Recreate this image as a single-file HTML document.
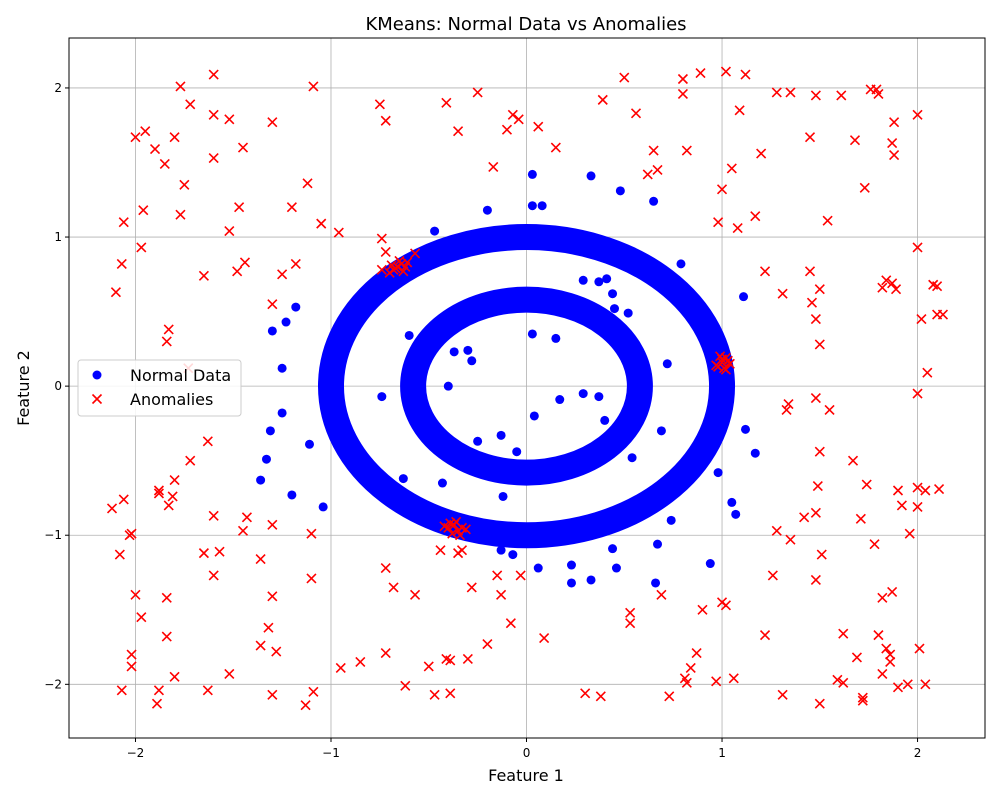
<!DOCTYPE html>
<html><head><meta charset="utf-8"><style>
body{margin:0;background:#fff}
svg text{font-family:"DejaVu Sans","Liberation Sans",sans-serif}
</style></head><body>
<svg id="chart" width="1000" height="800" xmlns="http://www.w3.org/2000/svg">
<rect width="1000" height="800" fill="#fff"/>
<text x="526" y="30" text-anchor="middle" font-size="18">KMeans: Normal Data vs Anomalies</text>
<g id="grid"></g>
<g id="rings"></g>
<g id="blue"></g>
<g id="red"></g>
<rect x="69" y="38" width="916" height="700" fill="none" stroke="#000" stroke-width="1"/>
<g id="ticks"></g>
<text x="526" y="781" text-anchor="middle" font-size="16">Feature 1</text>
<text x="29" y="388" text-anchor="middle" font-size="16" transform="rotate(-90 29 388)">Feature 2</text>
<g>
<rect x="78" y="360" width="163" height="56" rx="3" fill="#fff" fill-opacity="0.85" stroke="#ccc"/>
<circle cx="97" cy="375" r="4.5" fill="#0000ff"/>
<text x="130" y="381" font-size="16">Normal Data</text>
<path d="M92.5 394.5l9 9M101.5 394.5l-9 9" stroke="#ff0000" stroke-width="1.6"/>
<text x="130" y="405" font-size="16">Anomalies</text>
</g>
</svg>
<script>
const xTicks=[-2,-1,0,1,2];
const yTicks=[-2,-1,0,1,2];
const ringRadii=[1.0,0.58];
const blueX=[0.03,0.03,0.08,0.33,0.48,0.65,-0.2,-0.47,0.79,1.11,-1.18,-1.23,-1.25,-1.3,-1.25,-1.31,-1.33,-1.36,-1.2,-1.11,-1.04,0.29,0.37,0.41,0.44,0.45,0.52,-0.6,-0.37,-0.3,-0.28,-0.4,-0.57,-0.74,-0.25,-0.13,-0.05,-0.12,0.04,0.03,0.15,0.17,0.29,0.37,0.4,0.54,0.69,0.72,-0.43,-0.63,0.06,0.23,0.23,0.33,0.44,0.46,0.66,0.67,0.74,0.94,0.98,1.05,1.07,1.12,1.17,-0.13,-0.07];
const blueY=[1.42,1.21,1.21,1.41,1.31,1.24,1.18,1.04,0.82,0.6,0.53,0.43,0.12,0.37,-0.18,-0.3,-0.49,-0.63,-0.73,-0.39,-0.81,0.71,0.7,0.72,0.62,0.52,0.49,0.34,0.23,0.24,0.17,0.0,-0.1,-0.07,-0.37,-0.33,-0.44,-0.74,-0.2,0.35,0.32,-0.09,-0.05,-0.07,-0.23,-0.48,-0.3,0.15,-0.65,-0.62,-1.22,-1.2,-1.32,-1.3,-1.09,-1.22,-1.32,-1.06,-0.9,-1.19,-0.58,-0.78,-0.86,-0.29,-0.45,-1.1,-1.13];
const redX=[-2.0,-1.95,-1.9,-1.85,-1.8,-1.77,-1.72,-1.75,-1.77,-1.6,-1.6,-1.6,-1.52,-1.45,-1.47,-1.52,-1.48,-1.44,-1.3,-1.2,-1.18,-1.25,-1.09,-1.12,-1.05,-0.96,-1.65,-1.96,-2.06,-2.07,-1.97,-2.1,-1.83,-1.84,-1.73,-1.3,-1.72,-1.63,-2.12,-2.06,-2.03,-2.02,-2.08,-1.88,-1.88,-1.83,-1.81,-1.8,-1.6,-1.57,-1.6,-1.45,-1.43,-1.36,-1.3,-1.65,-2.0,-1.97,-1.84,-1.84,-2.02,-2.02,-2.07,-1.88,-1.89,-1.8,-1.63,-1.52,-1.36,-1.32,-1.3,-1.28,-1.3,-1.13,-1.09,-1.1,-1.1,-0.95,-0.85,-0.72,-0.72,-0.68,-0.62,-0.57,-0.5,-0.47,-0.44,-0.41,-0.39,-0.39,-0.3,-0.28,-0.2,-0.15,-0.13,-0.08,-0.03,0.09,0.3,0.38,0.53,0.53,0.69,0.73,0.81,0.82,0.84,0.87,0.9,0.97,1.0,1.02,1.06,1.22,1.26,1.31,1.28,1.35,1.42,1.48,1.48,1.51,1.5,1.49,1.5,1.48,1.55,1.33,1.34,1.5,1.5,1.48,1.46,1.45,1.31,1.22,1.59,1.62,1.62,1.67,1.69,1.72,1.72,1.71,1.74,1.78,1.8,1.82,1.82,1.84,1.86,1.86,1.87,1.9,1.95,1.96,1.92,1.9,2.0,2.0,2.04,2.04,2.01,2.11,2.0,2.05,2.02,2.08,2.1,2.1,2.13,2.0,1.82,1.84,1.87,1.89,1.88,1.87,1.88,2.0,1.79,1.76,1.8,1.73,1.68,1.61,1.54,1.48,1.45,1.35,1.28,1.2,1.17,1.12,1.09,1.08,1.05,1.02,1.0,0.98,0.89,0.8,0.8,0.82,0.67,0.62,0.65,0.56,0.5,0.39,0.15,0.06,-0.04,-0.07,-0.1,-0.17,-0.25,-0.35,-0.41,-0.72,-0.75,-0.74,-0.72,-0.57,-0.33,-0.35,-0.74,
-0.68,-0.66,-0.64,-0.62,-0.7,-0.65,-0.63,-0.67,-0.61,-0.69,
-0.4,-0.37,-0.35,-0.33,-0.38,-0.36,-0.31,-0.42,-0.34,-0.39,
0.98,1.0,1.02,1.04,0.99,1.01,1.03,0.97,1.0,1.02];
const redY=[1.67,1.71,1.59,1.49,1.67,2.01,1.89,1.35,1.15,2.09,1.82,1.53,1.79,1.6,1.2,1.04,0.77,0.83,1.77,1.2,0.82,0.75,2.01,1.36,1.09,1.03,0.74,1.18,1.1,0.82,0.93,0.63,0.38,0.3,0.12,0.55,-0.5,-0.37,-0.82,-0.76,-1.0,-0.99,-1.13,-0.7,-0.72,-0.8,-0.74,-0.63,-0.87,-1.11,-1.27,-0.97,-0.88,-1.16,-0.93,-1.12,-1.4,-1.55,-1.42,-1.68,-1.8,-1.88,-2.04,-2.04,-2.13,-1.95,-2.04,-1.93,-1.74,-1.62,-1.41,-1.78,-2.07,-2.14,-2.05,-1.29,-0.99,-1.89,-1.85,-1.79,-1.22,-1.35,-2.01,-1.4,-1.88,-2.07,-1.1,-1.83,-1.84,-2.06,-1.83,-1.35,-1.73,-1.27,-1.4,-1.59,-1.27,-1.69,-2.06,-2.08,-1.52,-1.59,-1.4,-2.08,-1.96,-1.99,-1.89,-1.79,-1.5,-1.98,-1.45,-1.47,-1.96,-1.67,-1.27,-2.07,-0.97,-1.03,-0.88,-0.85,-1.3,-1.13,-2.13,-0.67,-0.44,-0.08,-0.16,-0.16,-0.12,0.28,0.65,0.45,0.56,0.77,0.62,0.77,-1.97,-1.99,-1.66,-0.5,-1.82,-2.09,-2.11,-0.89,-0.66,-1.06,-1.67,-1.42,-1.93,-1.76,-1.8,-1.85,-1.38,-2.02,-2.0,-0.99,-0.8,-0.7,-0.68,-0.81,-0.7,-2.0,-1.76,-0.69,-0.05,0.09,0.45,0.68,0.67,0.48,0.48,0.93,0.66,0.71,0.69,0.65,1.55,1.63,1.77,1.82,1.99,1.99,1.96,1.33,1.65,1.95,1.11,1.95,1.67,1.97,1.97,1.56,1.14,2.09,1.85,1.06,1.46,2.11,1.32,1.1,2.1,2.06,1.96,1.58,1.45,1.42,1.58,1.83,2.07,1.92,1.6,1.74,1.79,1.82,1.72,1.47,1.97,1.71,1.9,1.78,1.89,0.99,0.9,0.89,-1.1,-1.12,0.78,
0.78,0.8,0.82,0.8,0.76,0.84,0.77,0.79,0.83,0.81,
-0.95,-0.93,-0.97,-0.95,-0.99,-0.91,-0.96,-0.94,-1.0,-0.92,
0.13,0.16,0.19,0.15,0.2,0.12,0.17,0.14,0.18,0.11];
const NS="http://www.w3.org/2000/svg";
const X0=69,X1=985,Y0=38,Y1=738;
const xMin=-2.34,xMax=2.345,yMin=-2.36,yMax=2.335;
function sx(v){return X0+(v-xMin)/(xMax-xMin)*(X1-X0);}
function sy(v){return Y1-(v-yMin)/(yMax-yMin)*(Y1-Y0);}
function mk(tag,attrs,parent){const e=document.createElementNS(NS,tag);for(const k in attrs)e.setAttribute(k,attrs[k]);parent.appendChild(e);return e;}
const grid=document.getElementById('grid'),ticks=document.getElementById('ticks');
xTicks.forEach(t=>{const x=sx(t);
 const g=mk('line',{x1:x,x2:x,y1:Y0,y2:Y1,stroke:'#b0b0b0','stroke-width':0.8},grid);
 
 
 const tk=mk('line',{x1:x,x2:x,y1:Y1,y2:Y1+4,stroke:'#000'},ticks);
 
 
 const tx=mk('text',{x:x,y:Y1+19,'text-anchor':'middle','font-size':12},ticks);tx.textContent=(t<0?'\u2212'+(-t):t);
 
 
});
yTicks.forEach(t=>{const y=sy(t);
 const g=mk('line',{x1:X0,x2:X1,y1:y,y2:y,stroke:'#b0b0b0','stroke-width':0.8},grid);
 
 
 const tk=mk('line',{x1:X0-4,x2:X0,y1:y,y2:y,stroke:'#000'},ticks);
 
 
 const tx=mk('text',{x:X0-7,y:y+4,'text-anchor':'end','font-size':12},ticks);tx.textContent=(t<0?'\u2212'+(-t):t);
 
 
});
const rings=document.getElementById('rings');
ringRadii.forEach(r=>{
 const e=mk('ellipse',{cx:sx(0),cy:sy(0),rx:sx(r)-sx(0),ry:sy(0)-sy(r),fill:'none',stroke:'#0000ff','stroke-width':26},rings);
 
 
});
const blue=document.getElementById('blue');
blueX.forEach((v,i)=>{
 const c=mk('circle',{cx:sx(v),cy:sy(blueY[i]),r:4.5,fill:'#0000ff'},blue);
 
 
});
const red=document.getElementById('red');
redX.forEach((v,i)=>{
 const x=sx(v),y=sy(redY[i]);
 const p=mk('path',{d:`M${x-4.5} ${y-4.5}l9 9M${x+4.5} ${y-4.5}l-9 9`,stroke:'#ff0000','stroke-width':1.6},red);
 
 
});
</script>
</body></html>
